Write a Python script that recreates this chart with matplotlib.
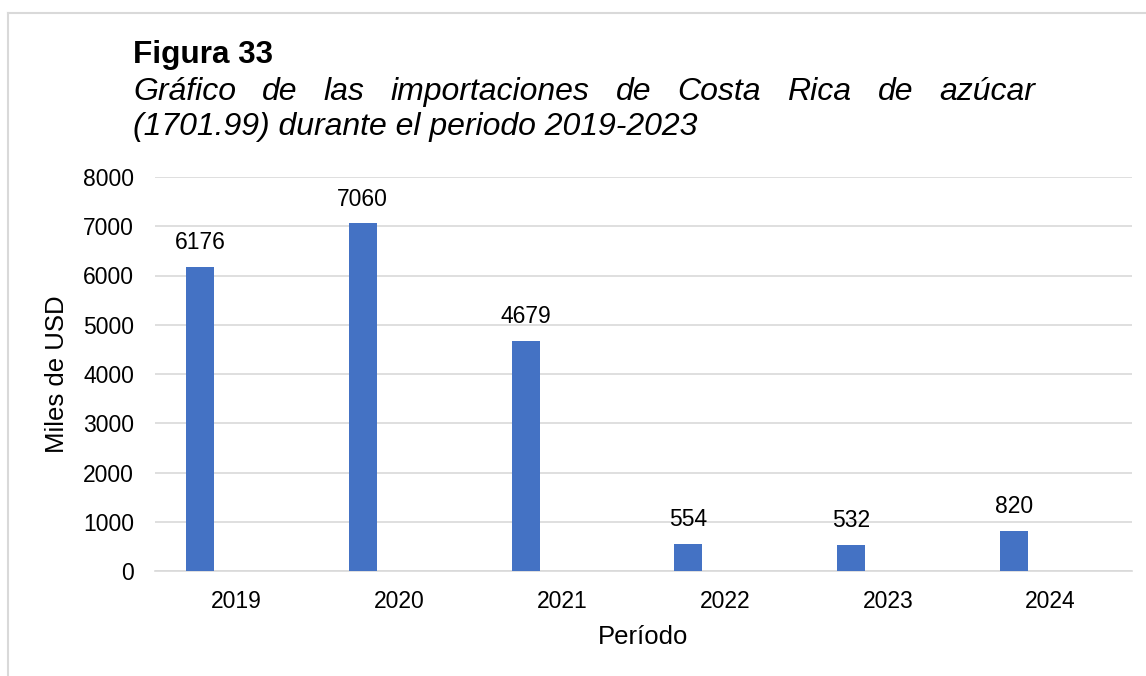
import numpy as np
import matplotlib.pyplot as plt
from matplotlib.lines import Line2D

plt.rcParams['font.family'] = ['Liberation Sans', 'DejaVu Sans']

# data
years = ["2019", "2020", "2021", "2022", "2023", "2024"]
imports = [6176, 7060, 4679, 554, 532, 820]

title = "Figura 33"
subtitle_1 = "Gráfico de las importaciones de Costa Rica de azúcar"
subtitle_2 = "(1701.99) durante el periodo 2019-2023"

W, H = 1146, 676
fig = plt.figure(figsize=(W / 100, H / 100), dpi=100)
ax = fig.add_axes([155 / W, 1 - 571 / H, (1132 - 155) / W, (571 - 177) / H])

x = np.arange(len(years))
bar_w = 0.172
bars = ax.bar(x - 0.224, imports, width=bar_w, color="#4472C4", zorder=3)

for b, v in zip(bars, imports):
    ax.annotate(str(v), (b.get_x() + b.get_width() / 2, v), xytext=(0, 9),
                textcoords="offset points", ha="center", va="bottom", fontsize=16.5)

ax.set_xlim(-0.5, len(years) - 0.5)
ax.set_ylim(0, 8000)
ax.set_yticks(np.arange(0, 8001, 1000))
ax.set_xticks(x)
ax.set_xticklabels(years)
ax.tick_params(axis="both", length=0, labelsize=16.5)
ax.tick_params(axis="x", pad=14)
ax.tick_params(axis="y", pad=15)
ax.grid(axis="y", color="#d9d9d9", linewidth=1.2, zorder=0)
for s in ["top", "right", "left"]:
    ax.spines[s].set_visible(False)
ax.spines["bottom"].set_color("#d9d9d9")
ax.spines["bottom"].set_linewidth(1.2)

fig.text(57 / W, 1 - 374 / H, "Miles de USD", rotation=90, ha="center", va="center", fontsize=18.5)
fig.text(643 / W, 1 - 637 / H, "Período", ha="center", va="center", fontsize=18.5)

# titles
fig.text(133 / W, 1 - 63 / H, title, fontsize=22.7, fontweight="bold", va="baseline")
words = subtitle_1.split()
objs = [fig.text(0, 1 - 100 / H, w, fontsize=23, style="italic", va="baseline") for w in words]
fig.canvas.draw()
r = fig.canvas.get_renderer()
widths = [t.get_window_extent(r).width for t in objs]
gap = (1035 - 133 - sum(widths)) / (len(words) - 1)
pos = 133
for t, w in zip(objs, widths):
    t.set_x(pos / W)
    pos += w + gap
fig.text(133 / W, 1 - 135 / H, subtitle_2, fontsize=23, style="italic", va="baseline")

# frame
fig.add_artist(Line2D([8 / W, 1], [1 - 13 / H, 1 - 13 / H], transform=fig.transFigure, color="#d9d9d9", lw=1.5))
fig.add_artist(Line2D([8 / W, 8 / W], [0, 1 - 13 / H], transform=fig.transFigure, color="#d9d9d9", lw=1.5))

fig.savefig("out.png", dpi=100)
